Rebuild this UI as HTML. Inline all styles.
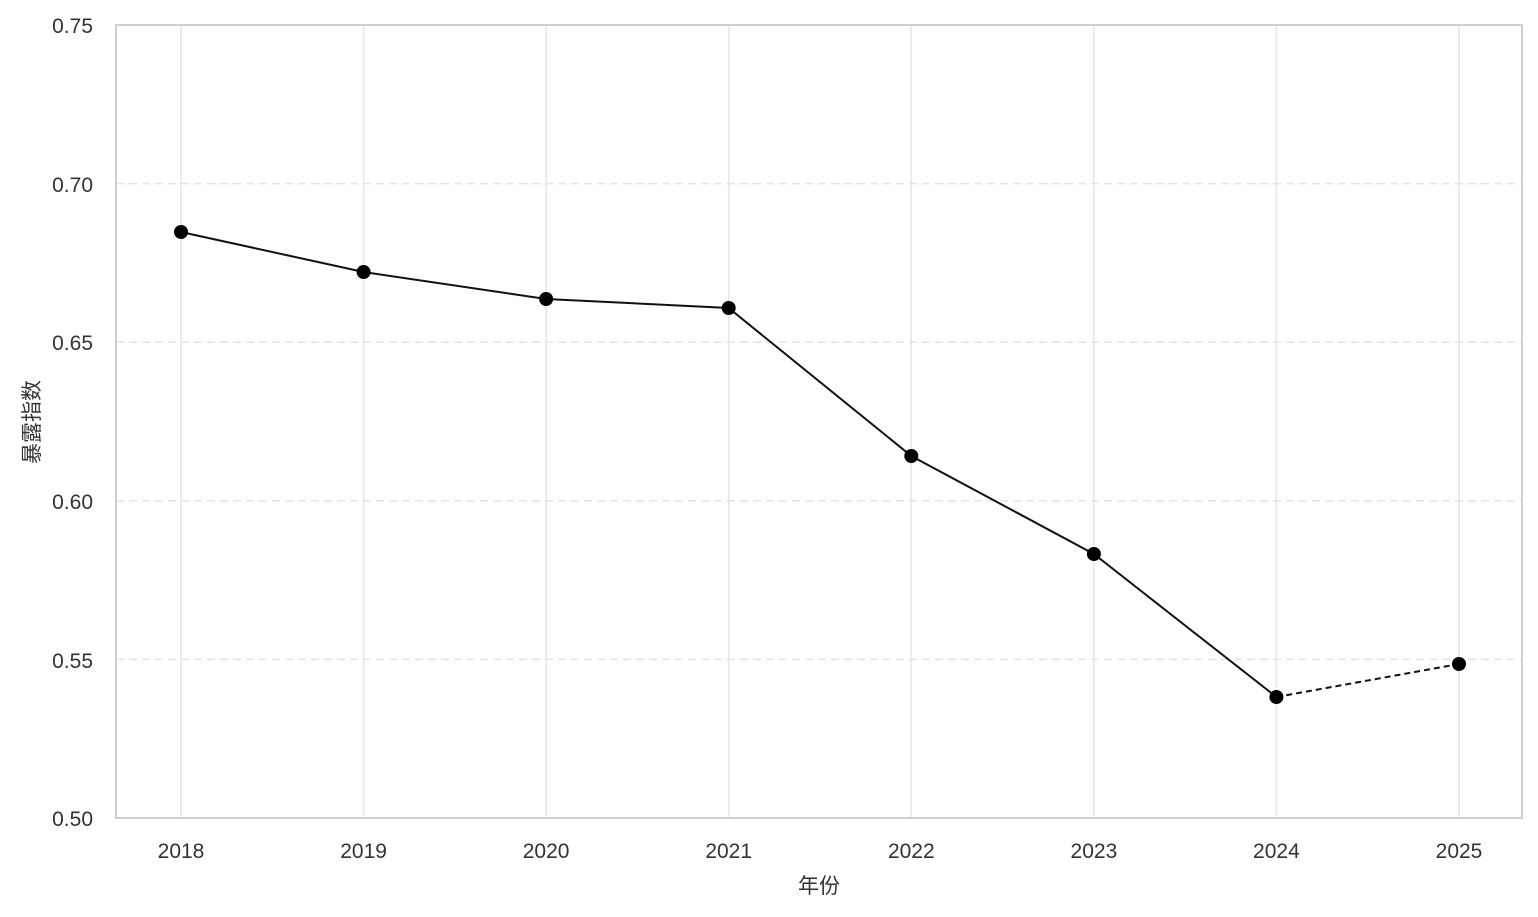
<!DOCTYPE html>
<html><head><meta charset="utf-8"><style>html,body{margin:0;padding:0;background:#fff}</style></head>
<body>
<svg width="1538" height="912" xmlns="http://www.w3.org/2000/svg" font-family="Liberation Sans, Noto Sans CJK SC, sans-serif">
<rect width="1538" height="912" fill="#fff"/>
<g stroke="#e6e6e6" stroke-width="1.5">
<line x1="181" y1="25" x2="181" y2="818"/>
<line x1="363.6" y1="25" x2="363.6" y2="818"/>
<line x1="546.1" y1="25" x2="546.1" y2="818"/>
<line x1="728.7" y1="25" x2="728.7" y2="818"/>
<line x1="911.3" y1="25" x2="911.3" y2="818"/>
<line x1="1093.9" y1="25" x2="1093.9" y2="818"/>
<line x1="1276.4" y1="25" x2="1276.4" y2="818"/>
<line x1="1459" y1="25" x2="1459" y2="818"/>
</g>
<g stroke="#e3e3e3" stroke-width="1.5" stroke-dasharray="8,5">
<line x1="116" y1="183.6" x2="1522" y2="183.6"/>
<line x1="116" y1="342.2" x2="1522" y2="342.2"/>
<line x1="116" y1="500.8" x2="1522" y2="500.8"/>
<line x1="116" y1="659.4" x2="1522" y2="659.4"/>
</g>
<rect x="116" y="25" width="1406" height="793" fill="none" stroke="#cfcfcf" stroke-width="2"/>
<polyline points="181,232 363.6,272 546.1,299 728.7,308 911.3,456 1093.9,554 1276.4,697" fill="none" stroke="#111" stroke-width="2"/>
<line x1="1276.4" y1="697" x2="1459" y2="664" stroke="#111" stroke-width="2" stroke-dasharray="6,4"/>
<g fill="#000">
<circle cx="181" cy="232" r="7"/><circle cx="363.6" cy="272" r="7"/><circle cx="546.1" cy="299" r="7"/><circle cx="728.7" cy="308" r="7"/><circle cx="911.3" cy="456" r="7"/><circle cx="1093.9" cy="554" r="7"/><circle cx="1276.4" cy="697" r="7"/><circle cx="1459" cy="664" r="7"/>
</g>
<g fill="#333" font-size="21" text-anchor="end">
<text x="93" y="33">0.75</text><text x="93" y="192">0.70</text><text x="93" y="350">0.65</text><text x="93" y="509">0.60</text><text x="93" y="668">0.55</text><text x="93" y="826">0.50</text>
</g>
<g fill="#333" font-size="21" text-anchor="middle">
<text x="181" y="858">2018</text><text x="363.6" y="858">2019</text><text x="546.1" y="858">2020</text><text x="728.7" y="858">2021</text><text x="911.3" y="858">2022</text><text x="1093.9" y="858">2023</text><text x="1276.4" y="858">2024</text><text x="1459" y="858">2025</text>
<text x="819" y="893" font-size="21">年份</text>
<text transform="translate(39,422) rotate(-90)" font-size="21">暴露指数</text>
</g>
</svg>
</body></html>
